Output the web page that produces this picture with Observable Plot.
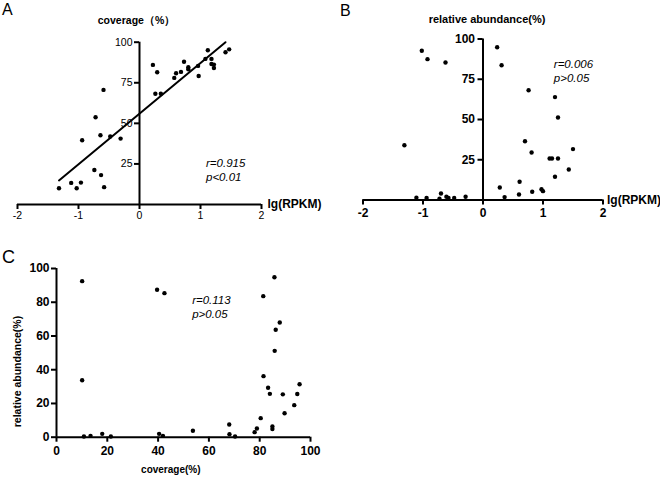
<!DOCTYPE html>
<html><head><meta charset="utf-8">
<script src="https://cdn.jsdelivr.net/npm/d3@7"></script>
<script src="https://cdn.jsdelivr.net/npm/@observablehq/plot@0.6"></script>
<style>
body{margin:0;background:#fff;}
#fig{position:relative;width:660px;height:477px;font-family:"Liberation Sans",Arial,sans-serif;color:#000;overflow:hidden;}
.panel{position:absolute;}
.panel svg{overflow:visible;}
.letter{position:absolute;line-height:1;font-weight:normal;}
</style></head><body>
<div id="fig"></div>
<script>
// ---- Panel A: coverage vs lg(RPKM)
const lgRpkmA = [-1.32,-1.12,-1.03,-0.96,-0.94,-0.72,-0.74,-0.59,-0.64,-0.63,-0.58,-0.48,-0.31,0.22,0.29,0.26,0.35,0.57,0.60,0.68,0.73,0.80,0.80,0.96,0.97,1.08,1.12,1.18,1.18,1.22,1.22,1.41,1.47];
const coverageA = [10.0,13.3,10.0,13.5,39.6,53.8,21.3,70.6,42.7,18.1,10.7,41.9,40.6,86.0,81.5,68.2,68.2,78.0,80.9,81.7,88.0,84.6,83.3,85.4,79.2,89.7,95.0,89.7,86.6,86.2,84.1,93.8,95.6];
const fitLgA = [-1.32, 1.41];
const fitCovA = [14.8, 100.0];
const xTicksA = [-2,-1,0,1,2];
const yTicksA = [25,50,75,100];
const annotA = ["r=0.915","p<0.01"];

// ---- Panel B: relative abundance vs lg(RPKM)
const lgRpkmB = [-1.31,-1.11,-1.02,-0.94,-0.925,-0.725,-0.70,-0.625,-0.61,-0.575,-0.48,-0.29,0.236,0.28,0.31,0.36,0.60,0.61,0.70,0.76,0.81,0.82,0.975,1.0,1.11,1.15,1.20,1.20,1.25,1.25,1.43,1.50];
const abundanceB = [34.0,1.4,92.7,1.2,87.5,0.8,4.0,85.4,2.0,1.2,1.2,2.0,94.9,7.8,83.7,1.8,3.4,11.3,36.5,68.2,29.5,5.1,6.7,5.5,25.8,25.8,63.9,14.4,51.2,25.8,18.9,31.6];
const xTicksB = [-2,-1,0,1,2];
const yTicksB = [25,50,75,100];
const annotB = ["r=0.006","p>0.05"];

// ---- Panel C: relative abundance vs coverage
const coverageC = [10.1,10.1,10.8,13.4,18.0,21.4,39.6,42.5,40.4,41.9,53.7,68.0,68.1,70.3,78.0,78.9,80.4,81.4,81.5,83.3,84.0,85.0,85.0,85.8,85.9,86.3,87.9,89.1,89.8,93.6,94.8,95.7];
const abundanceC = [92.5,33.8,0.4,0.8,2.0,0.4,87.4,85.4,2.0,0.8,3.8,7.5,1.8,0.4,3.0,5.2,11.3,83.6,36.2,29.3,25.7,6.3,4.8,94.8,51.2,63.7,68.0,25.4,14.2,19.0,25.6,31.4];
const xTicksC = [0,20,40,60,80,100];
const yTicksC = [0,20,40,60,80,100];
const annotC = ["r=0.113","p>0.05"];

const xTitleAB = "lg(RPKM)";
const yTitleA = "coverage（%）";
const yTitleB = "relative abundance(%)";
const xTitleC = "coverage(%)";
const yTitleC = "relative abundance(%)";
const letters = ["A","B","C"];

const FONT = '"Liberation Sans", Arial, Helvetica, sans-serif';
const NARROW = '"Liberation Sans Narrow", "Arial Narrow", "Liberation Sans", Arial, sans-serif';
const fig = document.getElementById("fig");
const fmt = d => String(d);

function place(el, left, top){
  const wrap = document.createElement("div");
  wrap.className = "panel";
  wrap.style.left = left + "px";
  wrap.style.top = top + "px";
  wrap.appendChild(el);
  fig.appendChild(wrap);
}

// Panel A
const dataA = lgRpkmA.map((x,i)=>({x, y: coverageA[i]}));
const fitA = fitLgA.map((x,i)=>({x, y: fitCovA[i]}));
const plotA = Plot.plot({
  width: 330, height: 235,
  marginLeft: 17, marginRight: 69, marginTop: 41.7, marginBottom: 31,
  x: {domain: [-2, 2]},
  y: {domain: [0, 100]},
  style: {fontFamily: FONT, fontSize: "10px", background: "transparent", color: "#000"},
  marks: [
    Plot.ruleY([0], {strokeWidth: 2}),
    Plot.ruleX([0], {y1: 0, y2: 100, strokeWidth: 2}),
    Plot.axisX({ticks: xTicksA, tickSize: 5, tickPadding: 2, tickFormat: fmt, label: null, strokeWidth: 2, fontSize: 10.5}),
    Plot.axisY({x: 0, ticks: yTicksA, tickSize: 5, tickPadding: 2, tickFormat: fmt, label: null, strokeWidth: 2, fontSize: 10.5}),
    Plot.line(fitA, {x: "x", y: "y", strokeWidth: 2}),
    Plot.dot(dataA, {x: "x", y: "y", r: 2.2, fill: "#000", stroke: null}),
    Plot.text([yTitleA], {x: 0, y: 100, dy: -22, dx: -3, text: d=>d, fontWeight: "bold", fontSize: 10.5}),
    Plot.text([xTitleAB], {x: 2, y: 0, dx: 6, text: d=>d, textAnchor: "start", fontWeight: "bold", fontSize: 12}),
    Plot.text([annotA.join("\n")], {x: 1.09, y: 29.1, text: d=>d, textAnchor: "start", lineAnchor: "top", lineHeight: 1.2, fontStyle: "italic", fontSize: 11.5})
  ]
});
place(plotA, 0, 0);

// Panel B (tick marks from axis marks, bold tick labels from text marks on the same scales)
const dataB = lgRpkmB.map((x,i)=>({x, y: abundanceB[i]}));
const plotB = Plot.plot({
  width: 340, height: 235,
  marginLeft: 42.5, marginRight: 57.5, marginTop: 38.5, marginBottom: 35.5,
  x: {domain: [-2, 2]},
  y: {domain: [0, 100]},
  style: {fontFamily: FONT, fontSize: "11px", background: "transparent", color: "#000"},
  marks: [
    Plot.ruleY([0], {strokeWidth: 2}),
    Plot.ruleX([0], {y1: 0, y2: 100, strokeWidth: 2}),
    Plot.axisX({ticks: xTicksB, tickSize: 5, label: null, strokeWidth: 2, fill: "none"}),
    Plot.axisY({x: 0, ticks: yTicksB, tickSize: 5, label: null, strokeWidth: 2, fill: "none"}),
    Plot.text(xTicksB, {x: d=>d, y: 0, dy: 13, text: fmt, fontWeight: "bold", fontSize: 12}),
    Plot.text(yTicksB, {x: 0, y: d=>d, dx: -8, text: fmt, textAnchor: "end", fontWeight: "bold", fontSize: 12}),
    Plot.dot(dataB, {x: "x", y: "y", r: 2.2, fill: "#000", stroke: null}),
    Plot.text([yTitleB], {x: 0, y: 100, dy: -20, dx: 4, text: d=>d, fontWeight: "bold", fontSize: 11}),
    Plot.text([xTitleAB], {x: 2, y: 0, dx: 4, text: d=>d, textAnchor: "start", fontWeight: "bold", fontSize: 12}),
    Plot.text([annotB.join("\n")], {x: 1.18, y: 87.9, text: d=>d, textAnchor: "start", lineAnchor: "top", lineHeight: 1.2, fontStyle: "italic", fontSize: 11.5})
  ]
});
place(plotB, 320, 0);

// Panel C
const dataC = coverageC.map((x,i)=>({x, y: abundanceC[i]}));
const plotC = Plot.plot({
  width: 340, height: 237,
  marginLeft: 56, marginRight: 30, marginTop: 28, marginBottom: 40.3,
  x: {domain: [0, 100]},
  y: {domain: [0, 100]},
  style: {fontFamily: FONT, fontSize: "11px", background: "transparent", color: "#000"},
  marks: [
    Plot.ruleY([0], {strokeWidth: 2}),
    Plot.ruleX([0], {strokeWidth: 2}),
    Plot.axisX({ticks: xTicksC, tickSize: 5, label: null, strokeWidth: 2, fill: "none"}),
    Plot.axisY({ticks: yTicksC, tickSize: 5, label: null, strokeWidth: 2, fill: "none"}),
    Plot.text(xTicksC, {x: d=>d, y: 0, dy: 14, text: fmt, fontWeight: "bold", fontSize: 12}),
    Plot.text(yTicksC, {x: 0, y: d=>d, dx: -7, text: fmt, textAnchor: "end", fontWeight: "bold", fontSize: 12}),
    Plot.dot(dataC, {x: "x", y: "y", r: 2.2, fill: "#000", stroke: null}),
    Plot.text([xTitleC], {x: 45, y: 0, dy: 32.6, text: d=>d, fontWeight: "bold", fontSize: 10, fontFamily: NARROW}),
    Plot.text([yTitleC], {x: -15.5, y: 38.9, rotate: -90, text: d=>d, fontWeight: "bold", fontSize: 10.5, fontFamily: NARROW}),
    Plot.text([annotC.join("\n")], {x: 53.4, y: 84.6, text: d=>d, textAnchor: "start", lineAnchor: "top", lineHeight: 1.2, fontStyle: "italic", fontSize: 11.5})
  ]
});
place(plotC, 0, 240);

// panel letters
[[letters[0], 2, 1.5, 16], [letters[1], 340, 2.5, 16], [letters[2], 2, 247.8, 18]].forEach(([t, l, tp, fs]) => {
  const d = document.createElement("div");
  d.className = "letter";
  d.textContent = t;
  d.style.left = l + "px";
  d.style.top = tp + "px";
  d.style.fontSize = fs + "px";
  fig.appendChild(d);
});
</script>
</body></html>
